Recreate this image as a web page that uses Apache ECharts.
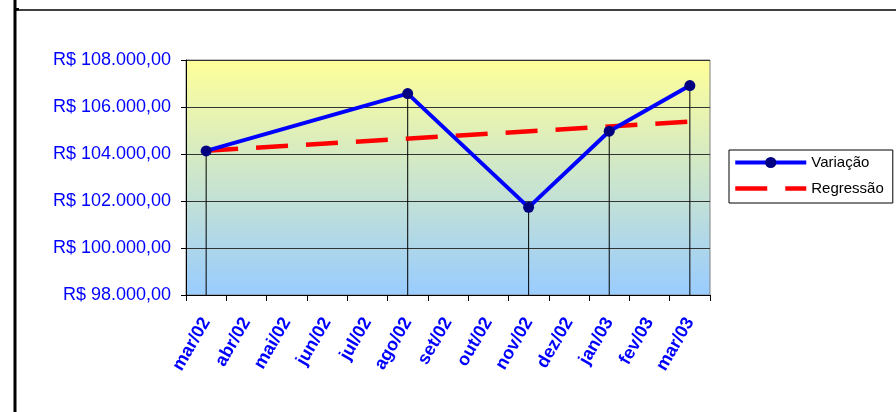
<!DOCTYPE html>
<html>
<head>
<meta charset="utf-8">
<script src="https://cdn.jsdelivr.net/npm/echarts@6/dist/echarts.min.js"></script>
<style>
html,body{margin:0;padding:0;background:#fff;}
#chart{width:896px;height:412px;}
</style>
</head>
<body>
<div id="chart"></div>
<script>
var categories = ['mar/02','abr/02','mai/02','jun/02','jul/02','ago/02','set/02','out/02','nov/02','dez/02','jan/03','fev/03','mar/03'];
var variacao = [104130, null, null, null, null, 106570, null, null, 101730, null, 104970, null, 106910];
var regressao = [104140, null, null, null, null, null, null, null, null, null, null, null, 105380];
var yTicks = [98000, 100000, 102000, 104000, 106000, 108000];

var FONT = 'Liberation Sans, Arial, sans-serif';
function fmt(v) {
  var s = Math.round(v).toString().replace(/\B(?=(\d{3})+(?!\d))/g, '.');
  return 'R$ ' + s + ',00';
}

var chart = echarts.init(document.getElementById('chart'), null, {renderer: 'canvas'});
chart.setOption({
  animation: false,
  backgroundColor: '#ffffff',
  textStyle: {fontFamily: FONT},
  graphic: [
    {type: 'rect', shape: {x: 13.5, y: 0, width: 3, height: 412}, style: {fill: '#000'}},
    {type: 'rect', shape: {x: 16, y: 9.3, width: 880, height: 1.5}, style: {fill: '#000'}},
    {type: 'rect', shape: {x: 16, y: 8, width: 3, height: 2.5}, style: {fill: '#000'}}
  ],
  grid: {
    left: 186, right: 186, top: 60, bottom: 117,
    show: true,
    borderColor: '#808080',
    borderWidth: 1,
    backgroundColor: new echarts.graphic.LinearGradient(0, 0, 0, 1, [
      {offset: 0, color: '#FFFF99'},
      {offset: 1, color: '#99CCFF'}
    ])
  },
  legend: {
    data: [
      {name: 'Variação'},
      {name: 'Regressão', itemStyle: {color: 'rgba(0,0,0,0)', borderWidth: 0}}
    ],
    orient: 'vertical',
    left: 729, top: 150,
    padding: [5, 9, 7, 4],
    itemWidth: 71, itemHeight: 14, itemGap: 11,
    backgroundColor: '#fff',
    borderColor: '#000',
    borderWidth: 1,
    borderRadius: 0,
    lineStyle: {width: 'inherit'},
    textStyle: {fontFamily: FONT, fontSize: 15, color: '#000'}
  },
  xAxis: {
    type: 'category',
    data: categories,
    boundaryGap: true,
    axisLine: {show: true, lineStyle: {color: '#000', width: 1}},
    axisTick: {show: true, length: 6, interval: 0, alignWithLabel: false, lineStyle: {color: '#000'}},
    axisLabel: {interval: 0, rotate: 60, margin: 24, color: '#0000FF', fontWeight: 'bold', fontSize: 18, fontFamily: FONT},
    splitLine: {show: false}
  },
  yAxis: {
    type: 'value',
    min: yTicks[0], max: yTicks[yTicks.length - 1], interval: 2000,
    axisLine: {show: true, lineStyle: {color: '#000', width: 1}},
    axisTick: {show: true, length: 5, lineStyle: {color: '#000'}},
    axisLabel: {margin: 15, color: '#0000FF', fontSize: 18, fontFamily: FONT, formatter: fmt},
    splitLine: {show: true, lineStyle: {color: '#333', width: 1}}
  },
  series: [
    {
      name: 'drop',
      type: 'bar',
      data: variacao,
      barWidth: 1,
      clip: true,
      itemStyle: {color: '#000'},
      silent: true,
      z: 1
    },
    {
      name: 'Regressão',
      type: 'line',
      data: regressao,
      connectNulls: true,
      showSymbol: false,
      symbol: 'none',
      lineStyle: {color: '#FF0000', width: 4.5, type: [32, 18]},
      itemStyle: {color: '#FF0000'},
      z: 3
    },
    {
      name: 'Variação',
      type: 'line',
      data: variacao,
      connectNulls: true,
      symbol: 'circle',
      symbolSize: 11,
      lineStyle: {color: '#0000FF', width: 4},
      itemStyle: {color: '#000080', borderWidth: 0},
      z: 4
    }
  ]
});
</script>
</body>
</html>
